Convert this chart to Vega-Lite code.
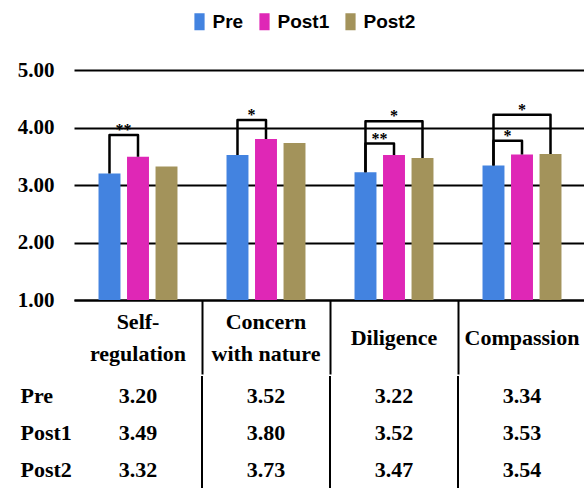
{
  "$schema": "https://vega.github.io/schema/vega-lite/v6.json",
  "padding": {"left": 17, "top": 12, "right": 0, "bottom": 0},
  "config": {"view": {"stroke": null}, "font": "Liberation Serif", "concat": {"spacing": 0}},
  "datasets": {
    "vals": [
      {"cat": "Self-regulation", "series": "Pre", "value": 3.20},
      {"cat": "Self-regulation", "series": "Post1", "value": 3.49},
      {"cat": "Self-regulation", "series": "Post2", "value": 3.32},
      {"cat": "Concern with nature", "series": "Pre", "value": 3.52},
      {"cat": "Concern with nature", "series": "Post1", "value": 3.80},
      {"cat": "Concern with nature", "series": "Post2", "value": 3.73},
      {"cat": "Diligence", "series": "Pre", "value": 3.22},
      {"cat": "Diligence", "series": "Post1", "value": 3.52},
      {"cat": "Diligence", "series": "Post2", "value": 3.47},
      {"cat": "Compassion", "series": "Pre", "value": 3.34},
      {"cat": "Compassion", "series": "Post1", "value": 3.53},
      {"cat": "Compassion", "series": "Post2", "value": 3.54}
    ],
    "brackets": [
      {"b": "b1", "cat": "Self-regulation", "series": "Pre", "y": 3.20, "k": 1},
      {"b": "b1", "cat": "Self-regulation", "series": "Pre", "y": 3.87, "k": 2},
      {"b": "b1", "cat": "Self-regulation", "series": "Post1", "y": 3.87, "k": 3},
      {"b": "b1", "cat": "Self-regulation", "series": "Post1", "y": 3.49, "k": 4},
      {"b": "b2", "cat": "Concern with nature", "series": "Pre", "y": 3.52, "k": 1},
      {"b": "b2", "cat": "Concern with nature", "series": "Pre", "y": 4.13, "k": 2},
      {"b": "b2", "cat": "Concern with nature", "series": "Post1", "y": 4.13, "k": 3},
      {"b": "b2", "cat": "Concern with nature", "series": "Post1", "y": 3.80, "k": 4},
      {"b": "b3", "cat": "Diligence", "series": "Pre", "y": 3.22, "k": 1},
      {"b": "b3", "cat": "Diligence", "series": "Pre", "y": 3.72, "k": 2},
      {"b": "b3", "cat": "Diligence", "series": "Post1", "y": 3.72, "k": 3},
      {"b": "b3", "cat": "Diligence", "series": "Post1", "y": 3.52, "k": 4},
      {"b": "b4", "cat": "Diligence", "series": "Pre", "y": 3.22, "k": 1},
      {"b": "b4", "cat": "Diligence", "series": "Pre", "y": 4.11, "k": 2},
      {"b": "b4", "cat": "Diligence", "series": "Post2", "y": 4.11, "k": 3},
      {"b": "b4", "cat": "Diligence", "series": "Post2", "y": 3.47, "k": 4},
      {"b": "b5", "cat": "Compassion", "series": "Pre", "y": 3.34, "k": 1},
      {"b": "b5", "cat": "Compassion", "series": "Pre", "y": 3.77, "k": 2},
      {"b": "b5", "cat": "Compassion", "series": "Post1", "y": 3.77, "k": 3},
      {"b": "b5", "cat": "Compassion", "series": "Post1", "y": 3.53, "k": 4},
      {"b": "b6", "cat": "Compassion", "series": "Pre", "y": 3.34, "k": 1},
      {"b": "b6", "cat": "Compassion", "series": "Pre", "y": 4.22, "k": 2},
      {"b": "b6", "cat": "Compassion", "series": "Post2", "y": 4.22, "k": 3},
      {"b": "b6", "cat": "Compassion", "series": "Post2", "y": 3.54, "k": 4}
    ],
    "stars": [
      {"cat": "Self-regulation", "series": "Pre", "span": "p1", "y": 3.87, "label": "**"},
      {"cat": "Concern with nature", "series": "Pre", "span": "p1", "y": 4.13, "label": "*"},
      {"cat": "Diligence", "series": "Pre", "span": "p1", "y": 3.72, "label": "**"},
      {"cat": "Diligence", "series": "Post1", "span": "p2", "y": 4.11, "label": "*"},
      {"cat": "Compassion", "series": "Pre", "span": "p1", "y": 3.77, "label": "*"},
      {"cat": "Compassion", "series": "Post1", "span": "p2", "y": 4.22, "label": "*"}
    ],
    "seps": [
      {"cat": "Concern with nature"},
      {"cat": "Diligence"},
      {"cat": "Compassion"}
    ]
  },
  "vconcat": [
    {
      "width": 512,
      "height": 230,
      "layer": [
        {
          "data": {"name": "vals"},
          "mark": {"type": "bar"},
          "encoding": {
            "x": {
              "field": "cat", "type": "nominal",
              "sort": ["Self-regulation", "Concern with nature", "Diligence", "Compassion"],
              "scale": {"paddingInner": 0, "paddingOuter": 0},
              "axis": {
                "title": null, "orient": "bottom", "labelAngle": 0,
                "domain": true, "domainColor": "black", "domainWidth": 2,
                "ticks": true, "tickSize": 74, "tickColor": "black", "tickWidth": 2,
                "bandPosition": 0,
                "tickOpacity": {"condition": {"test": "datum.value === 'Self-regulation'", "value": 0}, "value": 1},
                "labelPadding": {"condition": {"test": "datum.value === 'Self-regulation' || datum.value === 'Concern with nature'", "value": -53}, "value": -37},
                "labelBaseline": "middle",
                "labelFont": "Liberation Serif", "labelFontSize": 22, "labelFontWeight": "bold",
                "labelColor": "black", "labelLineHeight": 32,
                "labelExpr": "datum.value === 'Self-regulation' ? ['Self-', 'regulation'] : datum.value === 'Concern with nature' ? ['Concern', 'with nature'] : datum.value"
              }
            },
            "xOffset": {
              "field": "series", "type": "nominal", "sort": ["Pre", "Post1", "Post2"],
              "scale": {"paddingInner": 0.23, "paddingOuter": 0.86}
            },
            "y": {
              "field": "value", "type": "quantitative",
              "scale": {"domain": [1, 5], "zero": false, "nice": false},
              "axis": {
                "title": null, "values": [1, 2, 3, 4, 5], "format": ".2f",
                "grid": true, "gridColor": "black", "gridWidth": 2,
                "domain": false, "ticks": false, "labelPadding": 20,
                "labelFont": "Liberation Serif", "labelFontSize": 21, "labelFontWeight": "bold",
                "labelColor": "black"
              }
            },
            "y2": {"datum": 1},
            "color": {
              "field": "series", "type": "nominal",
              "scale": {"domain": ["Pre", "Post1", "Post2"], "range": ["#4383E0", "#DF27B6", "#A3935B"]},
              "legend": {
                "title": null, "orient": "none", "legendX": 116, "legendY": -58,
                "direction": "horizontal",
                "symbolType": "M-0.6,-1H0.6V1H-0.6Z", "symbolSize": 289, "symbolStrokeWidth": 0,
                "labelFont": "Liberation Sans",
                "labelFontSize": 19, "labelFontWeight": "bold",
                "labelColor": "black", "labelOffset": 3.5, "columnPadding": 11, "padding": 0
              }
            }
          }
        },
        {
          "data": {"name": "brackets"},
          "mark": {"type": "line", "color": "black", "strokeWidth": 2.5, "strokeJoin": "round"},
          "encoding": {
            "x": {"field": "cat", "type": "nominal", "sort": ["Self-regulation", "Concern with nature", "Diligence", "Compassion"]},
            "xOffset": {"field": "series", "type": "nominal", "sort": ["Pre", "Post1", "Post2"]},
            "y": {"field": "y", "type": "quantitative", "scale": {"domain": [1, 5], "zero": false, "nice": false}},
            "detail": {"field": "b"},
            "order": {"field": "k", "type": "quantitative"}
          }
        },
        {
          "data": {"name": "stars"},
          "transform": [{"filter": "datum.span === 'p1'"}],
          "mark": {"type": "text", "font": "Liberation Serif", "fontSize": 16, "fontWeight": "bold", "baseline": "alphabetic", "dx": 14, "color": "black"},
          "encoding": {
            "x": {"field": "cat", "type": "nominal", "sort": ["Self-regulation", "Concern with nature", "Diligence", "Compassion"]},
            "xOffset": {"field": "series", "type": "nominal", "sort": ["Pre", "Post1", "Post2"]},
            "y": {"field": "y", "type": "quantitative", "scale": {"domain": [1, 5], "zero": false, "nice": false}},
            "text": {"field": "label"}
          }
        },
        {
          "data": {"name": "stars"},
          "transform": [{"filter": "datum.span === 'p2'"}],
          "mark": {"type": "text", "font": "Liberation Serif", "fontSize": 16, "fontWeight": "bold", "baseline": "alphabetic", "color": "black"},
          "encoding": {
            "x": {"field": "cat", "type": "nominal", "sort": ["Self-regulation", "Concern with nature", "Diligence", "Compassion"]},
            "xOffset": {"field": "series", "type": "nominal", "sort": ["Pre", "Post1", "Post2"]},
            "y": {"field": "y", "type": "quantitative", "scale": {"domain": [1, 5], "zero": false, "nice": false}},
            "text": {"field": "label"}
          }
        }
      ]
    },
    {
      "width": 512,
      "height": 114,
      "layer": [
        {
          "data": {"name": "vals"},
          "mark": {"type": "text", "font": "Liberation Serif", "fontSize": 22, "fontWeight": "bold", "color": "black"},
          "encoding": {
            "x": {
              "field": "cat", "type": "nominal",
              "sort": ["Self-regulation", "Concern with nature", "Diligence", "Compassion"],
              "scale": {"paddingInner": 0, "paddingOuter": 0},
              "axis": null
            },
            "y": {
              "field": "series", "type": "nominal", "sort": ["Pre", "Post1", "Post2"],
              "scale": {"type": "band", "paddingInner": 0, "paddingOuter": 0.05},
              "axis": {
                "title": null, "domain": false, "ticks": false,
                "labelAlign": "left", "labelPadding": 54,
                "labelFont": "Liberation Serif", "labelFontSize": 22, "labelFontWeight": "bold",
                "labelColor": "black"
              }
            },
            "text": {"field": "value", "type": "quantitative", "format": ".2f"}
          }
        },
        {
          "data": {"name": "seps"},
          "mark": {"type": "rule", "color": "black", "strokeWidth": 2},
          "encoding": {
            "x": {"field": "cat", "type": "nominal", "sort": ["Self-regulation", "Concern with nature", "Diligence", "Compassion"], "bandPosition": 0}
          }
        }
      ]
    }
  ]
}
